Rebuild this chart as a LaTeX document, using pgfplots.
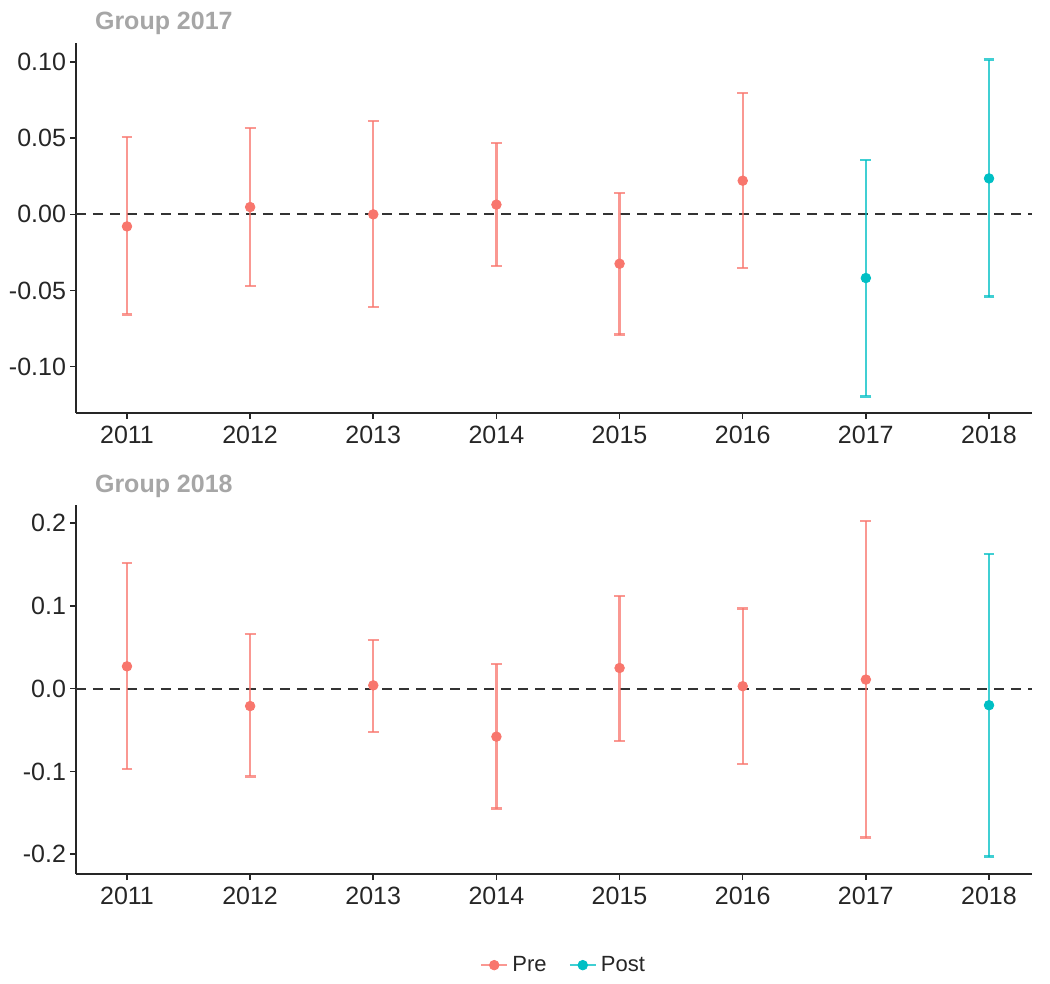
\documentclass[border=0pt]{standalone}
\usepackage{pgfplots}
\pgfplotsset{compat=1.18}
\usepackage{fontspec}
\setmainfont{Liberation Sans}
\definecolor{prec}{HTML}{F8766D}
\definecolor{postc}{HTML}{00BFC4}
\definecolor{titlec}{HTML}{A6A6A6}
\definecolor{zeroc}{HTML}{333333}

\pgfplotstableread{
x y ep em
2011 -0.0079 0.0586 0.0578
2012 0.0048 0.0519 0.0518
2013 0.0000 0.0613 0.0608
2014 0.0064 0.0404 0.0403
2015 -0.0324 0.0466 0.0465
2016 0.0221 0.0574 0.0573
}\topPre
\pgfplotstableread{
x y ep em
2017 -0.0418 0.0773 0.0777
2018 0.0236 0.0780 0.0776
}\topPost
\pgfplotstableread{
x y ep em
2011 0.027 0.125 0.124
2012 -0.021 0.087 0.085
2013 0.004 0.055 0.056
2014 -0.058 0.088 0.087
2015 0.025 0.087 0.088
2016 0.003 0.094 0.094
2017 0.011 0.192 0.191
}\botPre
\pgfplotstableread{
x y ep em
2018 -0.020 0.183 0.183
}\botPost

\pgfplotsset{
  panel/.style={
    scale only axis, width=478pt,
    xmin=2010.586, xmax=2018.349,
    axis x line*=bottom, axis y line*=left,
    axis line style={line width=0.8pt, black!85},
    tick align=outside, major tick length=3pt,
    every tick/.style={line width=0.8pt, black!85},
    xtick={2011,...,2018},
    xticklabels={2011,2012,2013,2014,2015,2016,2017,2018},
    tick label style={font=\fontsize{12.5}{14}\selectfont, text=black!85},
    yticklabel style={xshift=1.5pt},
    every axis title/.style={at={(0,1)}, anchor=base west, xshift=6pt, yshift=6.5pt,
      font=\fontsize{12.5}{14}\selectfont\bfseries, text=titlec},
    clip=false,
  },
  prestyle/.style={only marks, mark=*, mark size=2.4pt, color=prec,
    mark options={fill=prec, draw=prec},
    error bars/y dir=both, error bars/y explicit, error bars/error mark=|,
    error bars/error bar style={line width=1.15pt, draw=prec, opacity=0.75},
    error bars/error mark options={mark size=2.7pt, line width=1.15pt, draw=prec, opacity=0.75}},
  poststyle/.style={only marks, mark=*, mark size=2.4pt, color=postc,
    mark options={fill=postc, draw=postc},
    error bars/y dir=both, error bars/y explicit, error bars/error mark=|,
    error bars/error bar style={line width=1.15pt, draw=postc, opacity=0.75},
    error bars/error mark options={mark size=2.7pt, line width=1.15pt, draw=postc, opacity=0.75}},
  zerostyle/.style={line width=1pt, zeroc, dash pattern=on 5pt off 3.5pt, forget plot},
}

\begin{document}
\begin{tikzpicture}
\path[use as bounding box] (-38pt,21.5pt) rectangle (487pt,-470.5pt);
\begin{axis}[panel, at={(0,0)}, anchor=north west, height=185pt,
  ymin=-0.1304, ymax=0.1125,
  ytick={-0.1,-0.05,0,0.05,0.1},
  yticklabels={-0.10,-0.05,0.00,0.05,0.10},
  title={Group 2017}]
\addplot[zerostyle] coordinates {(2010.586,0) (2018.349,0)};
\addplot[prestyle] table[x=x, y=y, y error plus=ep, y error minus=em] {\topPre};
\addplot[poststyle] table[x=x, y=y, y error plus=ep, y error minus=em] {\topPost};
\end{axis}
\begin{axis}[panel, at={(0,-231pt)}, anchor=north west, height=184.5pt,
  ymin=-0.224, ymax=0.222,
  ytick={-0.2,-0.1,0,0.1,0.2},
  yticklabels={-0.2,-0.1,0.0,0.1,0.2},
  title={Group 2018},
  legend style={at={(0.511,-0.247)}, anchor=center, draw=none, fill=none,
    legend columns=2, font=\fontsize{11}{13}\selectfont, text=black!85,
    /tikz/every even column/.append style={column sep=9pt}},
  ]
\addplot[zerostyle] coordinates {(2010.586,0) (2018.349,0)};
\addplot[prestyle, legend image code/.code={
  \draw[prec, line width=1.15pt, opacity=0.75] (0pt,0pt) -- (13pt,0pt);
  \fill[prec] (6.5pt,0pt) circle (2.4pt);}]
  table[x=x, y=y, y error plus=ep, y error minus=em] {\botPre};
\addlegendentry{Pre}
\addplot[poststyle, legend image code/.code={
  \draw[postc, line width=1.15pt, opacity=0.75] (0pt,0pt) -- (13pt,0pt);
  \fill[postc] (6.5pt,0pt) circle (2.4pt);}]
  table[x=x, y=y, y error plus=ep, y error minus=em] {\botPost};
\addlegendentry{Post}
\end{axis}
\end{tikzpicture}
\end{document}
